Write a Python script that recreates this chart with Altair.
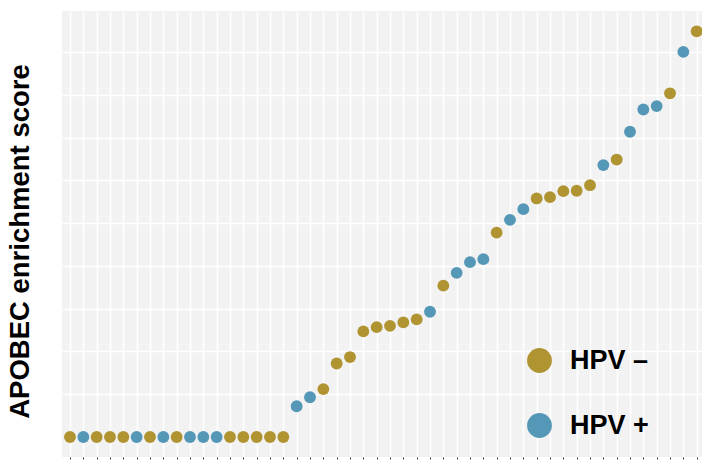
import altair as alt
import pandas as pd

# Samples ranked by APOBEC enrichment score, with HPV status
rank = list(range(1, 49))
score = [
    0, 0, 0, 0, 0, 0, 0, 0, 0, 0, 0, 0, 0, 0, 0, 0, 0,
    0.72, 0.93, 1.12, 1.72, 1.87, 2.47, 2.57, 2.60, 2.68, 2.75, 2.93,
    3.54, 3.84, 4.09, 4.16, 4.78, 5.08, 5.33, 5.58, 5.61, 5.75, 5.76,
    5.89, 6.36, 6.49, 7.14, 7.66, 7.74, 8.04, 9.01, 9.49,
]
status = [
    "HPV –", "HPV +", "HPV –", "HPV –", "HPV –", "HPV +", "HPV –", "HPV +",
    "HPV –", "HPV +", "HPV +", "HPV +", "HPV –", "HPV –", "HPV –", "HPV –",
    "HPV –", "HPV +", "HPV +", "HPV –", "HPV –", "HPV –", "HPV –", "HPV –",
    "HPV –", "HPV –", "HPV –", "HPV +", "HPV –", "HPV +", "HPV +", "HPV +",
    "HPV –", "HPV +", "HPV +", "HPV –", "HPV –", "HPV –", "HPV –", "HPV –",
    "HPV +", "HPV –", "HPV +", "HPV +", "HPV +", "HPV –", "HPV +", "HPV –",
]
groups = ["HPV –", "HPV +"]
group_colors = ["#b19432", "#5497b6"]
grid_y = [1, 2, 3, 4, 5, 6, 7, 8, 9]

df = pd.DataFrame({"rank": rank, "score": score, "status": status})

FONT = "Liberation Sans"

chart = (
    alt.Chart(df)
    .mark_circle(size=140, opacity=1)
    .encode(
        x=alt.X(
            "rank:Q",
            scale=alt.Scale(domain=[0.4, 48.4], nice=False, zero=False),
            axis=alt.Axis(
                values=rank,
                labels=False,
                title=None,
                domain=False,
                ticks=True,
                tickSize=2,
                tickColor="#333333",
                tickWidth=1,
                grid=True,
                gridColor="#ffffff",
                gridWidth=1.7,
                gridOpacity=1,
            ),
        ),
        y=alt.Y(
            "score:Q",
            scale=alt.Scale(domain=[-0.468, 9.965], nice=False, zero=False),
            axis=alt.Axis(
                values=grid_y,
                labels=False,
                ticks=False,
                domain=False,
                grid=True,
                gridColor="#ffffff",
                gridWidth=1.7,
                gridOpacity=1,
                title="APOBEC enrichment score",
                titleFont=FONT,
                titleFontSize=27.5,
                titleFontWeight="bold",
                titleColor="#000000",
                titleAngle=270,
                titleBaseline="alphabetic",
                titleAlign="center",
                titleX=-34,
                titleY=230,
            ),
        ),
        color=alt.Color(
            "status:N",
            scale=alt.Scale(domain=groups, range=group_colors),
            legend=alt.Legend(
                title=None,
                orient="none",
                legendX=464,
                legendY=336,
                padding=0,
                symbolType="circle",
                symbolSize=616,
                symbolStrokeWidth=0,
                symbolOpacity=1,
                labelFont=FONT,
                labelFontSize=27,
                labelFontWeight="bold",
                labelColor="#000000",
                labelOffset=17,
                rowPadding=37,
            ),
        ),
    )
    .properties(
        width=640,
        height=446,
        autosize=alt.AutoSizeParams(type="none"),
        padding={"left": 62, "top": 11, "right": 0, "bottom": 9},
    )
    .configure(background="#ffffff")
    .configure_view(fill="#f2f2f2", stroke=None)
)

chart.save("out.html", embed_options={"renderer": "svg", "actions": False})
